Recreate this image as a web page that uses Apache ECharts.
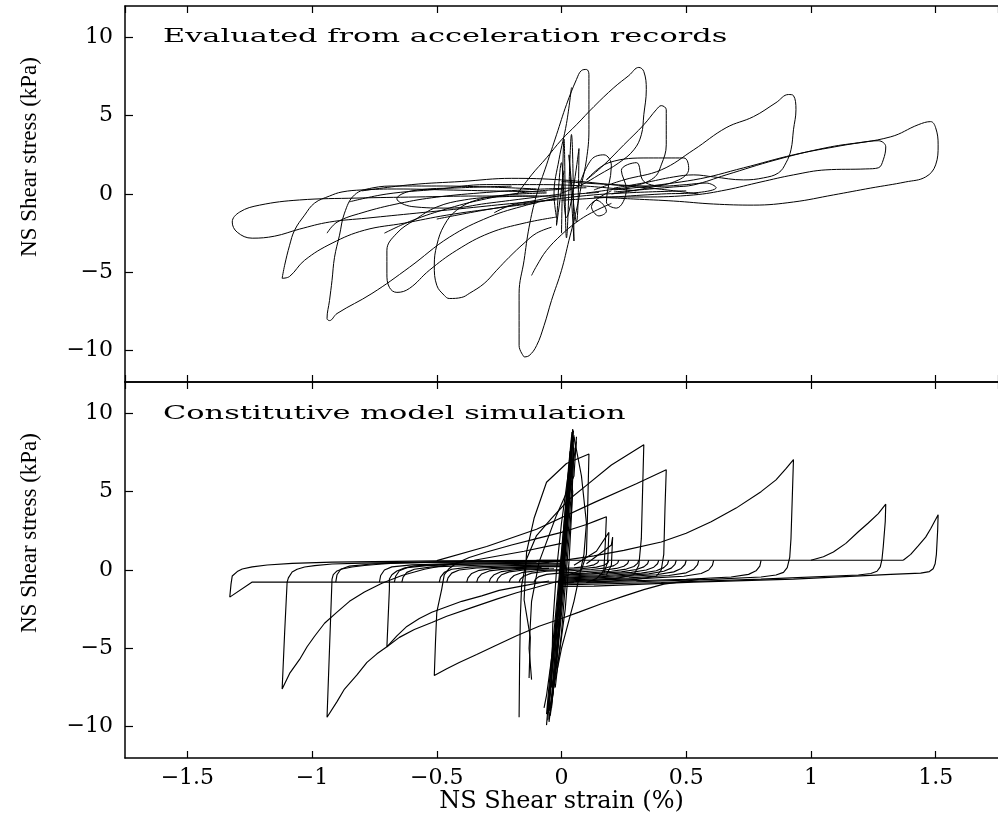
<!DOCTYPE html>
<html>
<head>
<meta charset="utf-8">
<script src="https://cdn.jsdelivr.net/npm/echarts/dist/echarts.min.js"></script>
<style>html,body{margin:0;padding:0;background:#fff;}#c{width:998px;height:815px;}</style>
</head>
<body>
<div id="c"></div>
<script>
// ---------- tick / label text ----------
const xTitle = 'NS Shear strain (%)';
const yTitle = 'NS Shear stress (kPa)';
const topNote = 'Evaluated from acceleration records';
const botNote = 'Constitutive model simulation';

// ---------- top panel: evaluated from acceleration records ----------
const topLoopA = [[-0.02,-0.13],[-0.34,-0.13],[-0.58,-0.19],[-0.82,-0.26],[-1.05,-0.38],[-1.21,-0.71],[-1.29,-1.15],[-1.32,-1.79],[-1.30,-2.44],[-1.24,-2.82],[-1.15,-2.69],[-1.05,-2.24],[-0.93,-1.79],[-0.78,-1.54],[-0.58,-1.22],[-0.38,-0.90],[-0.18,-0.58],[-0.02,-0.38]];
const topLoopB = [[-0.06,0.13],[-0.26,0.19],[-0.46,0.26],[-0.66,0.32],[-0.80,0.26],[-0.88,0.13],[-0.93,-0.13],[-0.99,-0.58],[-1.03,-1.35],[-1.07,-2.31],[-1.09,-3.27],[-1.11,-4.55],[-1.12,-5.38],[-1.09,-5.26],[-1.03,-4.23],[-0.92,-3.14],[-0.79,-2.31],[-0.63,-1.86],[-0.46,-1.35],[-0.26,-0.90],[-0.10,-0.58]];
const topLoopC = [[-0.10,0.32],[-0.30,0.45],[-0.50,0.51],[-0.66,0.51],[-0.76,0.38],[-0.83,-0.06],[-0.87,-1.22],[-0.89,-2.63],[-0.91,-4.04],[-0.92,-5.51],[-0.93,-6.79],[-0.94,-7.95],[-0.93,-8.08],[-0.90,-7.63],[-0.76,-6.35],[-0.61,-4.68],[-0.45,-2.76],[-0.29,-1.47],[-0.14,-0.71],[-0.02,-0.26]];
const topLoopD = [[-0.10,-0.13],[-0.26,-0.19],[-0.39,-0.38],[-0.50,-0.83],[-0.59,-1.67],[-0.66,-2.50],[-0.70,-3.59],[-0.70,-5.06],[-0.69,-5.96],[-0.66,-6.28],[-0.61,-6.03],[-0.53,-4.87],[-0.42,-3.59],[-0.29,-2.50],[-0.15,-1.86],[-0.02,-1.47]];
const topLoopE = [[-0.06,0.06],[-0.22,-0.06],[-0.34,-0.38],[-0.42,-1.03],[-0.47,-1.99],[-0.50,-3.27],[-0.51,-4.55],[-0.50,-5.83],[-0.47,-6.47],[-0.45,-6.67],[-0.40,-6.60],[-0.37,-6.35],[-0.31,-5.71],[-0.26,-4.87],[-0.21,-4.04],[-0.15,-3.14],[-0.10,-2.50],[-0.04,-2.12]];
const topLoopF = [[-0.15,-10.4],[-0.17,-9.68],[-0.17,-8.08],[-0.17,-6.35],[-0.15,-4.23],[-0.13,-2.12],[-0.10,-0.06],[-0.06,1.86],[-0.02,3.78],[0.02,5.71],[0.06,7.31],[0.08,7.88],[0.10,7.95],[0.11,7.63],[0.11,6.67],[0.11,5.38],[0.11,4.10],[0.10,2.18],[0.08,0.58],[0.06,-1.03],[0.03,-2.95],[0.00,-4.87],[-0.04,-6.79],[-0.07,-8.40],[-0.10,-9.68],[-0.13,-10.32],[-0.15,-10.4]];
const topLoopG = [[-0.18,-0.06],[-0.12,1.22],[-0.06,2.31],[0.00,3.46],[0.06,4.42],[0.13,5.58],[0.21,6.79],[0.27,7.56],[0.31,8.08],[0.33,7.82],[0.34,6.67],[0.33,5.06],[0.32,3.78],[0.29,2.82],[0.23,1.99],[0.15,1.22],[0.08,0.58],[0.00,0.06]];
const topLoopH = [[0.10,0.90],[0.17,1.86],[0.25,3.14],[0.33,4.42],[0.38,5.38],[0.40,5.64],[0.42,5.38],[0.42,4.42],[0.42,3.14],[0.40,1.86],[0.37,1.03],[0.29,0.51],[0.19,0.26],[0.10,0.06]];
const topLoopI = [[0.13,0.26],[0.25,0.90],[0.40,1.54],[0.53,2.82],[0.66,4.23],[0.77,4.94],[0.86,5.83],[0.91,6.35],[0.93,6.28],[0.94,5.38],[0.93,4.10],[0.92,2.82],[0.90,1.99],[0.87,1.35],[0.81,1.03],[0.73,0.90],[0.61,1.09],[0.53,1.22],[0.45,1.09],[0.33,0.71],[0.21,0.38]];
const topLoopJ = [[0.21,0.13],[0.45,0.45],[0.53,0.58],[0.66,1.22],[0.86,2.18],[1.06,2.95],[1.19,3.27],[1.27,3.40],[1.30,3.01],[1.29,2.18],[1.27,1.67],[1.22,1.60],[1.06,1.54],[0.93,1.22],[0.80,0.77],[0.66,0.26],[0.53,-0.06],[0.33,-0.19],[0.13,-0.19]];
const topLoopK = [[0.21,0.26],[0.53,0.90],[0.73,1.67],[0.93,2.50],[1.12,3.08],[1.32,3.65],[1.43,4.42],[1.48,4.62],[1.50,4.23],[1.51,3.14],[1.50,1.86],[1.46,1.09],[1.38,0.77],[1.24,0.38],[1.09,-0.06],[0.93,-0.51],[0.77,-0.71],[0.61,-0.64],[0.45,-0.45],[0.29,-0.32],[0.13,-0.19]];
const topWiggle1 = [[0.00,-2.5],[0.01,3.5],[0.02,-2.8],[0.04,3.8],[0.05,-3.0],[0.03,2.5],[0.06,-1.8],[0.07,2.9],[0.02,-1.5],[0.00,2.0],[-0.02,-2.0],[0.01,1.5]];
const topWiggle2 = [[0.04,6.8],[0.02,4.5],[-0.01,2.2],[-0.03,0.0],[-0.02,-1.5]];
const topWiggle3 = [[-0.12,-5.2],[-0.10,-4.6],[-0.06,-3.6],[0.00,-2.6],[0.06,-1.8],[0.12,-1.2],[0.20,-0.6]];
const topWiggle4 = [[0.07,0.5],[0.12,2.2],[0.17,2.5],[0.20,1.8],[0.18,-0.5],[0.22,-0.9],[0.26,0.3],[0.24,1.5],[0.30,2.0],[0.33,0.8],[0.40,0.5]];
const topWiggle5 = [[0.10,0.9],[0.19,2.0],[0.35,2.3],[0.49,2.3],[0.51,1.6],[0.47,0.9],[0.35,0.4],[0.20,0.0]];
const topBand1 = [[-0.85,-0.5],[-0.70,0.0],[-0.50,0.3],[-0.30,0.6],[-0.10,0.6],[0.10,0.5],[0.30,0.2]];
const topBand2 = [[-0.94,-2.5],[-0.90,-1.8],[-0.80,-1.2],[-0.65,-0.6],[-0.50,-0.2],[-0.30,0.1],[-0.10,0.3],[0.10,0.4]];
const topBand3 = [[-0.20,0.5],[-0.40,0.4],[-0.60,0.2],[-0.66,-0.3],[-0.60,-0.8],[-0.45,-0.9],[-0.30,-0.6],[-0.15,-0.3],[0.00,0.0]];
const topBand4 = [[-0.71,-2.5],[-0.60,-1.7],[-0.45,-0.9],[-0.30,-0.3],[-0.15,0.1],[0.00,0.3]];
const topBand5 = [[-0.27,-1.2],[-0.20,-0.7],[-0.10,-0.4],[0.00,-0.1],[0.15,0.1]];
const topBand6 = [[-0.80,0.2],[-0.60,0.6],[-0.40,0.8],[-0.20,1.0],[0.00,0.9],[0.20,0.6],[0.40,0.3],[0.55,0.0]];
const topBand7 = [[-0.50,-1.6],[-0.30,-1.0],[-0.10,-0.5],[0.10,-0.1],[0.30,0.1],[0.50,0.2]];
const topBand8 = [[0.00,-0.4],[0.20,-0.2],[0.40,0.0],[0.55,0.1],[0.62,0.4],[0.58,0.7],[0.50,0.6],[0.40,0.5],[0.20,0.6],[0.00,0.8]];
const topBand9 = [[0.10,-1.0],[0.14,-0.4],[0.18,-1.1],[0.15,-1.4],[0.12,-0.8],[0.20,0.2]];

// ---------- bottom panel: constitutive model simulation ----------
const botLoopLeft1 = [[0.05,-0.77],[-0.50,-0.77],[-1.00,-0.77],[-1.24,-0.77],[-1.33,-1.73],[-1.325,-0.9],[-1.32,-0.38],[-1.30,-0.10],[-1.28,0.06],[-1.24,0.20],[-1.18,0.32],[-1.08,0.42],[-0.92,0.50],[-0.50,0.58],[0.00,0.62]];
const botLoopLeft2 = [[0.00,0.60],[-0.50,0.52],[-0.80,0.44],[-0.92,0.38],[-0.99,0.28],[-1.03,0.19],[-1.06,0.05],[-1.08,-0.13],[-1.095,-0.50],[-1.10,-0.77],[-1.11,-4.0],[-1.12,-7.6],[-1.09,-6.6],[-1.05,-5.71],[-1.02,-4.9],[-0.99,-4.23],[-0.95,-3.4],[-0.90,-2.69],[-0.85,-2.0],[-0.79,-1.41],[-0.72,-0.85],[-0.64,-0.35],[-0.55,0.05],[-0.45,0.35],[-0.35,0.62],[-0.15,1.2],[0.00,1.7]];
const botLoopLeft3 = [[0.00,0.55],[-0.50,0.50],[-0.65,0.45],[-0.72,0.38],[-0.79,0.29],[-0.84,0.19],[-0.88,0.06],[-0.90,-0.06],[-0.915,-0.30],[-0.92,-0.58],[-0.93,-5.0],[-0.94,-9.4],[-0.90,-8.4],[-0.87,-7.6],[-0.82,-6.7],[-0.78,-5.9],[-0.74,-5.35],[-0.70,-4.9],[-0.65,-4.3],[-0.59,-3.8],[-0.52,-3.35],[-0.46,-2.95],[-0.36,-2.4],[-0.26,-1.86],[-0.18,-1.45],[-0.10,-1.10],[0.00,-0.65]];
const botLoopLeft4 = [[0.00,0.45],[-0.30,0.40],[-0.50,0.34],[-0.59,0.26],[-0.63,0.12],[-0.66,-0.06],[-0.68,-0.30],[-0.69,-0.58],[-0.69,-1.22],[-0.70,-4.9],[-0.66,-4.2],[-0.62,-3.6],[-0.57,-3.1],[-0.52,-2.7],[-0.46,-2.35],[-0.40,-2.0],[-0.32,-1.65],[-0.25,-1.3],[-0.15,-1.0],[-0.05,-0.7]];
const botLoopLeft5 = [[0.10,-0.8],[0.14,-0.55],[0.16,-0.25],[0.17,0.0],[0.175,1.5],[0.18,3.4],[0.14,3.15],[0.10,2.9],[0.05,2.65],[0.00,2.4],[-0.10,2.0],[-0.20,1.6],[-0.30,1.15],[-0.37,0.8],[-0.42,0.45],[-0.45,0.1],[-0.47,-0.3],[-0.48,-1.2],[-0.50,-2.69],[-0.505,-4.5],[-0.51,-6.73],[-0.46,-6.3],[-0.41,-5.9],[-0.34,-5.4],[-0.27,-4.87],[-0.18,-4.2],[-0.09,-3.59],[0.00,-3.1],[0.07,-2.69],[0.16,-2.15],[0.25,-1.67],[0.33,-1.25],[0.41,-0.90],[0.55,-0.60]];
const botArcL3 = [[-0.905,-0.77],[-0.90,-0.30],[-0.885,0.05],[-0.85,0.25],[-0.75,0.40],[-0.50,0.50],[-0.20,0.55],[0.00,0.58]];
const botArcL5 = [[-0.73,-0.77],[-0.725,-0.35],[-0.71,0.00],[-0.68,0.20],[-0.60,0.33],[-0.40,0.43],[-0.10,0.50]];
const botArcL6 = [[-0.67,-0.77],[-0.665,-0.40],[-0.65,-0.05],[-0.62,0.15],[-0.54,0.28],[-0.35,0.38],[-0.05,0.45]];
const botArcL7 = [[-0.64,-0.77],[-0.635,-0.45],[-0.62,-0.15],[-0.59,0.05],[-0.52,0.20],[-0.30,0.32],[0.00,0.40]];
const botArcL8 = [[-0.49,-0.77],[-0.485,-0.45],[-0.47,-0.15],[-0.44,0.05],[-0.37,0.18],[-0.20,0.28],[0.00,0.33]];
const botArcL9 = [[-0.46,-0.77],[-0.455,-0.50],[-0.44,-0.20],[-0.41,0.00],[-0.34,0.13],[-0.15,0.22],[0.00,0.26]];
const botArcL10 = [[-0.38,-0.77],[-0.375,-0.50],[-0.36,-0.22],[-0.33,-0.02],[-0.27,0.10],[-0.10,0.20],[0.00,0.22]];
const botArcL11 = [[-0.34,-0.77],[-0.335,-0.52],[-0.32,-0.25],[-0.29,-0.06],[-0.23,0.06],[-0.08,0.15]];
const botArcL12 = [[-0.29,-0.77],[-0.285,-0.55],[-0.27,-0.30],[-0.24,-0.10],[-0.18,0.03],[-0.05,0.10]];
const botArcL13 = [[-0.26,-0.77],[-0.255,-0.55],[-0.24,-0.30],[-0.21,-0.12],[-0.15,0.00],[-0.03,0.08]];
const botArcL14 = [[-0.21,-0.77],[-0.205,-0.57],[-0.19,-0.35],[-0.16,-0.17],[-0.10,-0.05],[0.00,0.02]];
const botArcL15 = [[-0.17,-0.77],[-0.165,-0.58],[-0.15,-0.38],[-0.12,-0.20],[-0.06,-0.08],[0.00,-0.04]];
const botArcL16 = [[-0.11,-0.77],[-0.105,-0.60],[-0.09,-0.42],[-0.06,-0.28],[0.00,-0.18]];
const botUpperLine = [[-0.10,0.62],[0.50,0.62],[1.00,0.62],[1.37,0.62]];
const botArcR1 = [[0.80,0.62],[0.795,0.25],[0.78,-0.05],[0.75,-0.28],[0.68,-0.45],[0.50,-0.60],[0.20,-0.72],[0.00,-0.78]];
const botArcR2 = [[0.61,0.62],[0.605,0.30],[0.59,0.00],[0.56,-0.22],[0.49,-0.40],[0.32,-0.55],[0.00,-0.70]];
const botArcR3 = [[0.55,0.62],[0.545,0.32],[0.53,0.05],[0.50,-0.18],[0.43,-0.35],[0.27,-0.50],[0.00,-0.65]];
const botArcR4 = [[0.50,0.62],[0.495,0.35],[0.48,0.10],[0.45,-0.12],[0.38,-0.30],[0.22,-0.45],[0.00,-0.58]];
const botArcR5 = [[0.46,0.62],[0.455,0.36],[0.44,0.12],[0.41,-0.08],[0.35,-0.25],[0.20,-0.40],[0.00,-0.52]];
const botArcR6 = [[0.43,0.62],[0.425,0.38],[0.41,0.15],[0.38,-0.05],[0.32,-0.20],[0.18,-0.35],[0.00,-0.47]];
const botArcR7 = [[0.39,0.62],[0.385,0.40],[0.37,0.18],[0.34,0.00],[0.28,-0.15],[0.15,-0.30],[0.00,-0.40]];
const botArcR8 = [[0.35,0.62],[0.345,0.40],[0.33,0.20],[0.30,0.03],[0.24,-0.12],[0.12,-0.25],[0.00,-0.33]];
const botArcR9 = [[0.31,0.62],[0.305,0.42],[0.29,0.22],[0.26,0.06],[0.20,-0.08],[0.10,-0.20],[0.00,-0.27]];
const botArcR10 = [[0.27,0.62],[0.265,0.42],[0.25,0.24],[0.22,0.10],[0.16,-0.03],[0.06,-0.14],[0.00,-0.18]];
const botArcR11 = [[0.23,0.62],[0.225,0.44],[0.21,0.28],[0.18,0.14],[0.12,0.03],[0.00,-0.08]];
const botArcR12 = [[0.19,0.62],[0.185,0.45],[0.17,0.30],[0.14,0.18],[0.08,0.08],[0.00,0.00]];
const botArcR13 = [[0.15,0.62],[0.145,0.46],[0.13,0.33],[0.10,0.22],[0.05,0.14],[0.00,0.10]];
const botPeak093 = [[-0.10,0.40],[0.00,0.60],[0.13,0.90],[0.25,1.25],[0.40,1.79],[0.50,2.35],[0.60,3.08],[0.70,3.95],[0.80,5.00],[0.86,5.75],[0.90,6.47],[0.93,7.05],[0.925,4.5],[0.92,2.0],[0.915,0.8],[0.905,0.15],[0.89,-0.15],[0.86,-0.32],[0.80,-0.45],[0.60,-0.60],[0.30,-0.75],[0.00,-0.85]];
const botPeak130 = [[1.00,0.62],[1.05,0.85],[1.09,1.15],[1.14,1.70],[1.19,2.44],[1.23,3.00],[1.27,3.60],[1.30,4.20],[1.298,3.10],[1.29,1.50],[1.285,0.70],[1.278,0.20],[1.265,-0.08],[1.24,-0.22],[1.19,-0.32],[0.80,-0.58],[0.40,-0.80],[0.00,-0.95]];
const botPeak151 = [[1.37,0.62],[1.40,1.00],[1.43,1.54],[1.46,2.10],[1.48,2.63],[1.51,3.53],[1.508,2.50],[1.503,1.00],[1.498,0.40],[1.49,0.08],[1.475,-0.10],[1.44,-0.20],[1.32,-0.28],[0.93,-0.58],[0.53,-0.77],[0.13,-1.03],[0.00,-1.05]];
const botPeak033 = [[-0.17,-9.4],[-0.168,-6.0],[-0.165,-3.0],[-0.16,-1.0],[-0.14,0.7],[-0.10,2.2],[-0.04,3.3],[0.03,4.5],[0.10,5.4],[0.20,6.7],[0.33,8.0],[0.325,5.0],[0.32,2.0],[0.31,0.3],[0.29,-0.3],[0.20,-0.6],[0.00,-0.8]];
const botPeak011 = [[-0.13,-6.9],[-0.125,-4.3],[-0.15,-1.9],[-0.14,1.15],[-0.11,3.3],[-0.06,5.6],[0.02,6.8],[0.11,7.4],[0.105,4.0],[0.10,1.0],[0.08,0.0],[0.00,-0.5]];
const botPeak042 = [[-0.50,0.60],[-0.30,1.50],[-0.10,2.60],[0.13,4.30],[0.30,5.50],[0.42,6.40],[0.415,4.0],[0.41,1.0],[0.40,0.0],[0.38,-0.40],[0.30,-0.60],[0.10,-0.80]];
const botSpikeA = [[0.05,0.30],[0.14,1.20],[0.19,2.40],[0.185,0.50],[0.17,-0.20]];
const botSpikeB = [[0.10,0.40],[0.20,1.60],[0.205,2.10],[0.20,0.30],[0.18,-0.30]];
const botCore1 = [[-0.06,-9.9],[-0.04,-6.0],[-0.01,-2.0],[0.01,2.0],[0.03,6.0],[0.045,9.0],[0.04,6.0],[0.02,2.0],[0.00,-2.0],[-0.02,-6.0],[-0.05,-9.5]];
const botCore2 = [[-0.04,-8.5],[-0.02,-4.0],[0.00,0.0],[0.02,4.0],[0.04,8.3],[0.03,4.0],[0.01,0.0],[-0.01,-4.0],[-0.035,-8.0]];
const botCore3 = [[-0.05,-9.0],[-0.03,-5.0],[-0.005,-1.0],[0.015,3.0],[0.035,7.5],[0.05,8.6],[0.045,6.0],[0.025,2.0],[0.005,-2.0],[-0.02,-6.0],[-0.045,-9.3]];
const botCore4 = [[-0.03,-7.0],[-0.01,-3.0],[0.01,1.0],[0.03,5.0],[0.05,7.8],[0.04,4.0],[0.02,0.0],[0.00,-4.0],[-0.025,-7.5]];
const botCore5 = [[-0.07,-8.8],[-0.06,-8.0],[-0.03,-4.5],[0.00,0.5],[0.03,5.0],[0.06,8.2]];
const botCore6 = [[-0.055,-9.6],[-0.035,-5.5],[-0.012,-1.5],[0.008,2.5],[0.028,6.5],[0.042,8.8],[0.035,5.5],[0.015,1.5],[-0.005,-2.5],[-0.025,-6.5],[-0.05,-9.7]];
const botCore7 = [[-0.045,-9.2],[-0.025,-5.2],[-0.003,-1.2],[0.018,2.8],[0.038,7.0],[0.048,8.9],[0.04,6.8],[0.02,2.5],[-0.001,-1.8],[-0.022,-5.9],[-0.04,-8.8]];
const botCore8 = [[-0.06,-9.2],[-0.04,-5.6],[-0.02,-2.2],[0.00,1.2],[0.02,4.6],[0.035,7.6],[0.03,5.2],[0.01,1.6],[-0.01,-1.9],[-0.03,-5.4],[-0.055,-9.0]];
const botCore9 = [[-0.04,-7.5],[-0.035,-3.5],[-0.02,0.0],[0.00,3.0],[0.03,6.5],[0.045,5.0],[0.03,0.5],[0.015,-2.5],[-0.01,-5.5],[-0.04,-7.5]];
const botBulgeL = [[0.06,8.5],[0.05,6.0],[-0.02,3.5],[-0.09,0.5],[-0.12,-2.0],[-0.13,-5.0],[-0.12,-7.0]];
const botBulgeR = [[-0.05,-9.0],[0.00,-5.0],[0.05,-2.0],[0.09,1.0],[0.10,3.0],[0.08,6.0],[0.05,8.5]];

const topCurves = [topLoopA, topLoopB, topLoopC, topLoopD, topLoopE, topLoopF, topLoopG, topLoopH, topLoopI, topLoopJ, topLoopK,
  topWiggle1, topWiggle2, topWiggle3, topWiggle4, topWiggle5,
  topBand1, topBand2, topBand3, topBand4, topBand5, topBand6, topBand7, topBand8, topBand9];
const botCurves = [botLoopLeft1, botLoopLeft2, botLoopLeft3, botLoopLeft4, botLoopLeft5,
  botArcL3, botArcL5, botArcL6, botArcL7, botArcL8, botArcL9, botArcL10, botArcL11, botArcL12, botArcL13, botArcL14, botArcL15, botArcL16,
  botUpperLine, botArcR1, botArcR2, botArcR3, botArcR4, botArcR5, botArcR6, botArcR7, botArcR8, botArcR9, botArcR10, botArcR11, botArcR12, botArcR13,
  botPeak093, botPeak130, botPeak151, botPeak033, botPeak011, botPeak042, botSpikeA, botSpikeB,
  botCore1, botCore2, botCore3, botCore4, botCore5, botCore6, botCore7, botCore8, botCore9, botBulgeL, botBulgeR];

const minus = v => String(v).replace('-', '\u2212');
const serif = '"DejaVu Serif", "Liberation Serif", serif';
const lineAxis = {onZero: false, lineStyle: {color: '#000', width: 1.5}};

function xAx(grid, pos, labels, name) {
  return {
    type: 'value', gridIndex: grid, position: pos, min: -1.75, max: 1.75, splitNumber: 7,
    axisLine: lineAxis, splitLine: {show: false},
    axisTick: {show: true, inside: true, length: 7, lineStyle: {color: '#000', width: 1.2}},
    axisLabel: {show: labels, showMinLabel: false, showMaxLabel: false, formatter: minus, color: '#000',
      fontFamily: serif, fontSize: 22, margin: 9},
    name: name || '', nameLocation: 'middle', nameGap: 30,
    nameTextStyle: {color: '#000', fontFamily: serif, fontSize: 24}
  };
}
function yAx(grid) {
  return {
    type: 'value', gridIndex: grid, min: -12, max: 12, splitNumber: 5,
    axisLine: lineAxis, splitLine: {show: false},
    axisTick: {show: true, inside: true, length: 8, lineStyle: {color: '#000', width: 1.2}},
    axisLabel: {showMinLabel: false, showMaxLabel: false, formatter: minus, color: '#000',
      fontFamily: serif, fontSize: 22, margin: 12},
    name: yTitle, nameLocation: 'middle', nameRotate: 90, nameGap: 84,
    nameTextStyle: {color: '#000', fontFamily: '"Liberation Serif", serif', fontSize: 23, padding: [0, 0, 0, 74]}
  };
}

const series = [];
topCurves.forEach(d => series.push({type: 'line', xAxisIndex: 0, yAxisIndex: 0, data: d, smooth: 0.4,
  symbol: 'none', silent: true, lineStyle: {color: '#000', width: 1}}));
botCurves.forEach(d => series.push({type: 'line', xAxisIndex: 2, yAxisIndex: 1, data: d, smooth: false,
  symbol: 'none', silent: true, lineStyle: {color: '#000', width: 1.15}}));

const chart = echarts.init(document.getElementById('c'), null, {renderer: 'canvas'});
chart.setOption({
  animation: false,
  backgroundColor: '#fff',
  grid: [
    {left: 125, top: 6, width: 883, height: 376},
    {left: 125, top: 382, width: 883, height: 376}
  ],
  xAxis: [xAx(0, 'bottom', false), xAx(0, 'top', false), xAx(1, 'bottom', true, xTitle), xAx(1, 'top', false)],
  yAxis: [yAx(0), yAx(1)],
  graphic: [
    {type: 'text', x: 163, y: 28, scaleX: 1.6, silent: true,
      style: {text: topNote, fontFamily: serif, fontSize: 19, fill: '#000', verticalAlign: 'top'}},
    {type: 'text', x: 163, y: 405, scaleX: 1.6, silent: true,
      style: {text: botNote, fontFamily: serif, fontSize: 19, fill: '#000', verticalAlign: 'top'}}
  ],
  series: series
});
</script>
</body>
</html>
